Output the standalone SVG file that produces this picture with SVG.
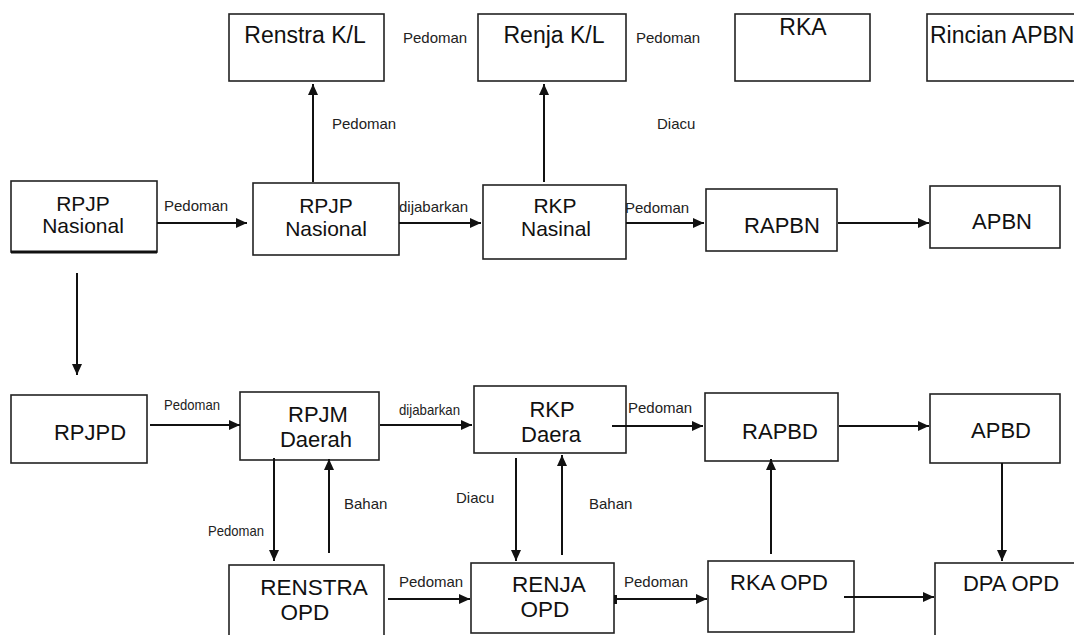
<svg xmlns="http://www.w3.org/2000/svg" width="1074" height="635" viewBox="0 0 1074 635">
<style>
.box{fill:#fff;stroke:#222;stroke-width:1.6}
.nt{font-family:"Liberation Sans",Arial,sans-serif;fill:#111;text-anchor:middle}
.lb{font-family:"Liberation Sans",Arial,sans-serif;font-size:15px;fill:#222}
.cn line{stroke:#111;stroke-width:2;marker-end:url(#ah)}
</style>
<defs>
<marker id="ah" markerUnits="userSpaceOnUse" markerWidth="12" markerHeight="10" refX="11" refY="5" orient="auto">
<path d="M0,0 L11,5 L0,10 z" fill="#111"/>
</marker>
</defs>
<rect width="1074" height="635" fill="#fff"/>

<g id="n-renstra-kl"><rect class="box" x="229" y="14" width="155" height="67"/><text class="nt" x="305" y="43" font-size="23">Renstra K/L</text></g>
<g id="n-renja-kl"><rect class="box" x="478" y="14" width="148" height="67"/><text class="nt" x="554" y="43" font-size="23">Renja K/L</text></g>
<g id="n-rka"><rect class="box" x="735" y="14" width="135" height="67"/><text class="nt" x="803" y="35" font-size="23">RKA</text></g>
<g id="n-rincian"><rect class="box" x="927" y="14" width="160" height="67"/><text class="nt" x="930" y="43" font-size="23" style="text-anchor:start">Rincian APBN</text></g>

<g id="n-rpjp1"><rect class="box" x="11" y="181" width="146" height="71"/><line x1="11" y1="252" x2="157" y2="252" stroke="#111" stroke-width="3"/><text class="nt" x="83" y="211" font-size="21">RPJP</text><text class="nt" x="83" y="233" font-size="21">Nasional</text></g>
<g id="n-rpjp2"><rect class="box" x="253" y="183" width="146" height="72"/><text class="nt" x="326" y="213" font-size="21">RPJP</text><text class="nt" x="326" y="236" font-size="21">Nasional</text></g>
<g id="n-rkp-nas"><rect class="box" x="483" y="185" width="143" height="74"/><text class="nt" x="555" y="213" font-size="21">RKP</text><text class="nt" x="556" y="236" font-size="21">Nasinal</text></g>
<g id="n-rapbn"><rect class="box" x="706" y="189" width="131" height="62"/><text class="nt" x="782" y="233" font-size="22">RAPBN</text></g>
<g id="n-apbn"><rect class="box" x="930" y="186" width="130" height="62"/><text class="nt" x="1002" y="229" font-size="22">APBN</text></g>

<g id="n-rpjpd"><rect class="box" x="11" y="395" width="136" height="68"/><text class="nt" x="90" y="440" font-size="22">RPJPD</text></g>
<g id="n-rpjm"><rect class="box" x="240" y="392" width="139" height="68"/><text class="nt" x="318" y="422" font-size="22">RPJM</text><text class="nt" x="316" y="447" font-size="22">Daerah</text></g>
<g id="n-rkp-daera"><rect class="box" x="474" y="386" width="152" height="67"/><text class="nt" x="552" y="417" font-size="22">RKP</text><text class="nt" x="551" y="442" font-size="22">Daera</text></g>
<g id="n-rapbd"><rect class="box" x="705" y="393" width="133" height="68"/><text class="nt" x="780" y="439" font-size="22">RAPBD</text></g>
<g id="n-apbd"><rect class="box" x="930" y="394" width="130" height="69"/><text class="nt" x="1001" y="438" font-size="22">APBD</text></g>

<g id="n-renstra-opd"><rect class="box" x="229" y="565" width="155" height="80"/><text class="nt" x="314" y="595" font-size="22.5">RENSTRA</text><text class="nt" x="305" y="620" font-size="22.5">OPD</text></g>
<g id="n-renja-opd"><rect class="box" x="471" y="563" width="143" height="70"/><text class="nt" x="549" y="592" font-size="22.5">RENJA</text><text class="nt" x="545" y="617" font-size="22.5">OPD</text></g>
<g id="n-rka-opd"><rect class="box" x="708" y="561" width="146" height="71"/><text class="nt" x="779" y="590" font-size="22">RKA OPD</text></g>
<g id="n-dpa-opd"><rect class="box" x="935" y="563" width="150" height="80"/><text class="nt" x="1011" y="591" font-size="22">DPA OPD</text></g>

<g id="connectors" class="cn">
<line x1="157" y1="223" x2="247" y2="223"/>
<line x1="313" y1="182" x2="313" y2="84"/>
<line x1="399" y1="223" x2="481" y2="223"/>
<line x1="544" y1="182" x2="544" y2="84"/>
<line x1="626" y1="223" x2="704" y2="223"/>
<line x1="838" y1="223" x2="929" y2="223"/>
<line x1="77" y1="273" x2="77" y2="375"/>
<line x1="150" y1="425" x2="240" y2="425"/>
<line x1="380" y1="425" x2="472" y2="425"/>
<line x1="612" y1="426" x2="703" y2="426"/>
<line x1="839" y1="426" x2="929" y2="426"/>
<line x1="274" y1="458" x2="274" y2="561"/>
<line x1="329" y1="553" x2="329" y2="459"/>
<line x1="516" y1="458" x2="516" y2="561"/>
<line x1="562" y1="555" x2="562" y2="455"/>
<line x1="771" y1="554" x2="771" y2="459"/>
<line x1="1002" y1="463" x2="1002" y2="561"/>
<line x1="388" y1="599" x2="470" y2="599"/>
<line x1="615" y1="599" x2="707" y2="599"/>
<line x1="844" y1="597" x2="934" y2="597"/>
<rect x="614" y="595" width="3" height="9" fill="#111"/>
</g>

<g id="labels">
<text class="lb" x="403" y="43">Pedoman</text>
<text class="lb" x="636" y="43">Pedoman</text>
<text class="lb" x="332" y="129">Pedoman</text>
<text class="lb" x="657" y="129">Diacu</text>
<text class="lb" x="164" y="211">Pedoman</text>
<text class="lb" x="399" y="212">dijabarkan</text>
<text class="lb" x="625" y="213">Pedoman</text>
<text class="lb" x="164" y="410" textLength="56" lengthAdjust="spacingAndGlyphs">Pedoman</text>
<text class="lb" x="399" y="415" textLength="61" lengthAdjust="spacingAndGlyphs">dijabarkan</text>
<text class="lb" x="628" y="413">Pedoman</text>
<text class="lb" x="208" y="536" textLength="56" lengthAdjust="spacingAndGlyphs">Pedoman</text>
<text class="lb" x="344" y="509">Bahan</text>
<text class="lb" x="456" y="503">Diacu</text>
<text class="lb" x="589" y="509">Bahan</text>
<text class="lb" x="399" y="587">Pedoman</text>
<text class="lb" x="624" y="587">Pedoman</text>
</g>
</svg>
